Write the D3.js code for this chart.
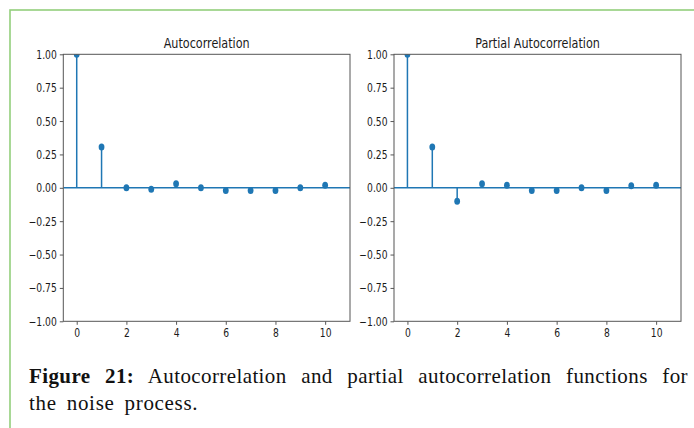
<!DOCTYPE html>
<html>
<head>
<meta charset="utf-8">
<script src="https://cdn.jsdelivr.net/npm/d3@7"></script>
<style>
  html, body { margin: 0; padding: 0; background: #fff; }
  #wrap { position: relative; width: 694px; height: 428px; overflow: hidden; }
  svg { position: absolute; left: 0; top: 0; }
  .caption {
    position: absolute; left: 29px; width: 659px;
    font-family: "Liberation Serif", serif; font-size: 21px; color: #111;
    letter-spacing: 0.4px; line-height: 27px;
  }
  .line1 { top: 363px; text-align: justify; text-align-last: justify; }
  .line2 { top: 390px; word-spacing: 4px; letter-spacing: 0.7px; }
  .caption b { font-weight: bold; }
</style>
</head>
<body>
<div id="wrap">
  <svg id="chart" width="694" height="428"></svg>
  <div class="caption line1"><b>Figure 21:</b> Autocorrelation and partial autocorrelation functions for</div>
  <div class="caption line2">the noise process.</div>
</div>
<script>
// Lags and correlation estimates for the noise process
const lags = [0, 1, 2, 3, 4, 5, 6, 7, 8, 9, 10];
const acfValues = [1.0, 0.305, 0.0, -0.01, 0.03, 0.0, -0.02, -0.02, -0.02, 0.0, 0.02];
const pacfValues = [1.0, 0.305, -0.10, 0.03, 0.02, -0.02, -0.02, 0.0, -0.02, 0.015, 0.02];
const titles = ["Autocorrelation", "Partial Autocorrelation"];
const yTicks = [-1.0, -0.75, -0.5, -0.25, 0.0, 0.25, 0.5, 0.75, 1.0];
const xTicks = [0, 2, 4, 6, 8, 10];

const svg = d3.select("#chart");
const blue = "#1f77b4";
const textScale = 0.8; // narrow glyphs

// page frame
svg.append("rect")
  .attr("x", 10).attr("y", 10).attr("width", 720).attr("height", 440)
  .attr("fill", "none").attr("stroke", "#93cf7c").attr("stroke-width", 1.6);

const panels = [
  { left: 63.3, right: 350, values: acfValues, title: titles[0] },
  { left: 394, right: 681, values: pacfValues, title: titles[1] }
];
const plotTop = 54.3, plotBottom = 321.3;

panels.forEach((p, i) => {
  const x = d3.scaleLinear().domain([-0.54, 11.0]).range([p.left, p.right]);
  const y = d3.scaleLinear().domain([-1, 1]).range([plotBottom, plotTop]);
  const g = svg.append("g");

  const clipId = "clip" + i;
  svg.append("clipPath").attr("id", clipId)
    .append("rect").attr("x", p.left).attr("y", plotTop)
    .attr("width", p.right - p.left).attr("height", plotBottom - plotTop);

  const plot = g.append("g").attr("clip-path", `url(#${clipId})`);

  // stems
  plot.selectAll("line.stem").data(lags).join("line")
    .attr("class", "stem")
    .attr("x1", d => x(d)).attr("x2", d => x(d))
    .attr("y1", y(0)).attr("y2", d => y(p.values[d]))
    .attr("stroke", blue).attr("stroke-width", 1.5);

  // zero line
  plot.append("line")
    .attr("x1", p.left).attr("x2", p.right)
    .attr("y1", y(0)).attr("y2", y(0))
    .attr("stroke", blue).attr("stroke-width", 1.5);

  // markers
  plot.selectAll("ellipse.dot").data(lags).join("ellipse")
    .attr("class", "dot")
    .attr("cx", d => x(d)).attr("cy", d => y(p.values[d]))
    .attr("rx", 2.9).attr("ry", 3.5)
    .attr("fill", blue);

  // axes
  const xAxis = g.append("g").attr("transform", `translate(0,${plotBottom})`)
    .call(d3.axisBottom(x).tickValues(xTicks).tickSize(3.5).tickPadding(0).tickFormat(d3.format("d")));
  const yAxis = g.append("g").attr("transform", `translate(${p.left},0)`)
    .call(d3.axisLeft(y).tickValues(yTicks).tickSize(3.5).tickFormat(d => d3.format(".2f")(d).replace("-", "\u2212")));

  [xAxis, yAxis].forEach(a => {
    a.select(".domain").remove();
    a.selectAll(".tick line").attr("stroke", "#444").attr("stroke-width", 0.9);
    a.selectAll(".tick text")
      .attr("fill", "#1a1a1a")
      .attr("font-family", "DejaVu Sans, sans-serif")
      .attr("font-size", 11.5);
  });
  xAxis.selectAll(".tick text")
    .attr("dy", null).attr("y", 15.5)
    .attr("transform", `scale(${textScale},1)`);
  yAxis.selectAll(".tick text")
    .attr("x", -6.5 / textScale).attr("dy", "0.35em")
    .attr("transform", `scale(${textScale},1)`);

  // frame
  g.append("rect")
    .attr("x", p.left).attr("y", plotTop)
    .attr("width", p.right - p.left).attr("height", plotBottom - plotTop)
    .attr("fill", "none").attr("stroke", "#555").attr("stroke-width", 1);

  // title
  const cx = (p.left + p.right) / 2;
  g.append("text")
    .attr("transform", `translate(${cx},48) scale(${textScale},1)`)
    .attr("text-anchor", "middle")
    .attr("font-family", "DejaVu Sans, sans-serif")
    .attr("font-size", 14)
    .attr("fill", "#1a1a1a")
    .text(p.title);
});
</script>
</body>
</html>
